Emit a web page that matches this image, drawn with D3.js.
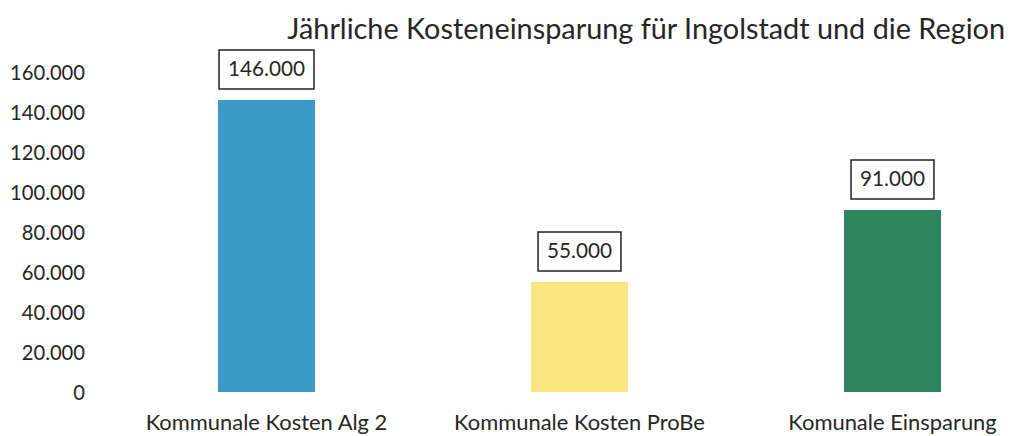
<!DOCTYPE html>
<html><head><meta charset="utf-8">
<script src="https://cdn.jsdelivr.net/npm/d3@7"></script>
<style>body{margin:0;background:#fff}svg{display:block}text{font-family:Lato,"Open Sans",sans-serif;fill:#262626}</style>
</head><body>
<svg id="c" width="1012" height="436"></svg>
<script>
const title = "Jährliche Kosteneinsparung für Ingolstadt und die Region";
const categories = ["Kommunale Kosten Alg 2", "Kommunale Kosten ProBe", "Komunale Einsparung"];
const values = [146000, 55000, 91000];
const colors = ["#3a9bc8", "#f9e680", "#2e845d"];
const yTicks = [0, 20000, 40000, 60000, 80000, 100000, 120000, 140000, 160000];

const svg = d3.select("#c");
const fmt = v => d3.format(",")(v).replace(/,/g, ".");

const x = d3.scaleBand().domain(categories).range([110, 1049]).paddingInner(0.69).paddingOuter(0.345);
const y = d3.scaleLinear().domain([0, 160000]).range([392, 72]);

// font size so that a given string gets a given width
function sizeFor(str, w, base) {
  const tmp = svg.append("text").attr("font-size", base).text(str);
  const l = tmp.node().getComputedTextLength();
  tmp.remove();
  return base * w / l;
}

// title
svg.append("text").attr("x", 1005).attr("y", 39).attr("text-anchor", "end")
  .attr("font-size", sizeFor(title, 718, 24)).text(title);

// y axis
const ySize = sizeFor("160.000", 75, 18);
const yAxis = d3.axisLeft(y).tickValues(yTicks).tickFormat(fmt).tickSize(0).tickPadding(0);
const ga = svg.append("g").attr("transform", "translate(85,0)").call(yAxis);
ga.select(".domain").remove();
ga.selectAll("text").attr("font-size", ySize).attr("font-family", "Lato").attr("fill", "#262626").attr("dy", "0.36em");

// bars
const bw = 97;
svg.selectAll("rect.bar").data(values).join("rect").attr("class", "bar")
  .attr("x", (d, i) => x(categories[i]) + x.bandwidth() / 2 - bw / 2)
  .attr("width", bw)
  .attr("y", d => y(d)).attr("height", d => y(0) - y(d))
  .attr("fill", (d, i) => colors[i]);

// x labels
const cSize = sizeFor(categories[1], 251, 16);
svg.selectAll("text.cat").data(categories).join("text").attr("class", "cat")
  .attr("x", d => x(d) + x.bandwidth() / 2).attr("y", 430)
  .attr("text-anchor", "middle").attr("font-size", cSize).text(d => d);

// data labels with boxes
const lSize = sizeFor("146.000", 77, 20);
values.forEach((v, i) => {
  const cx = x(categories[i]) + x.bandwidth() / 2;
  const g = svg.append("g");
  const tx = g.append("text").attr("x", cx).attr("y", y(v) - 31).attr("dy", "0.36em")
    .attr("text-anchor", "middle").attr("font-size", lSize).text(fmt(v));
  const bb = tx.node().getBBox();
  g.insert("rect", "text").attr("x", cx - (bb.width + 18) / 2).attr("y", y(v) - 50)
    .attr("width", bb.width + 18).attr("height", 39)
    .attr("fill", "#fff").attr("stroke", "#222").attr("stroke-width", 1.5);
});
</script>
</body></html>
